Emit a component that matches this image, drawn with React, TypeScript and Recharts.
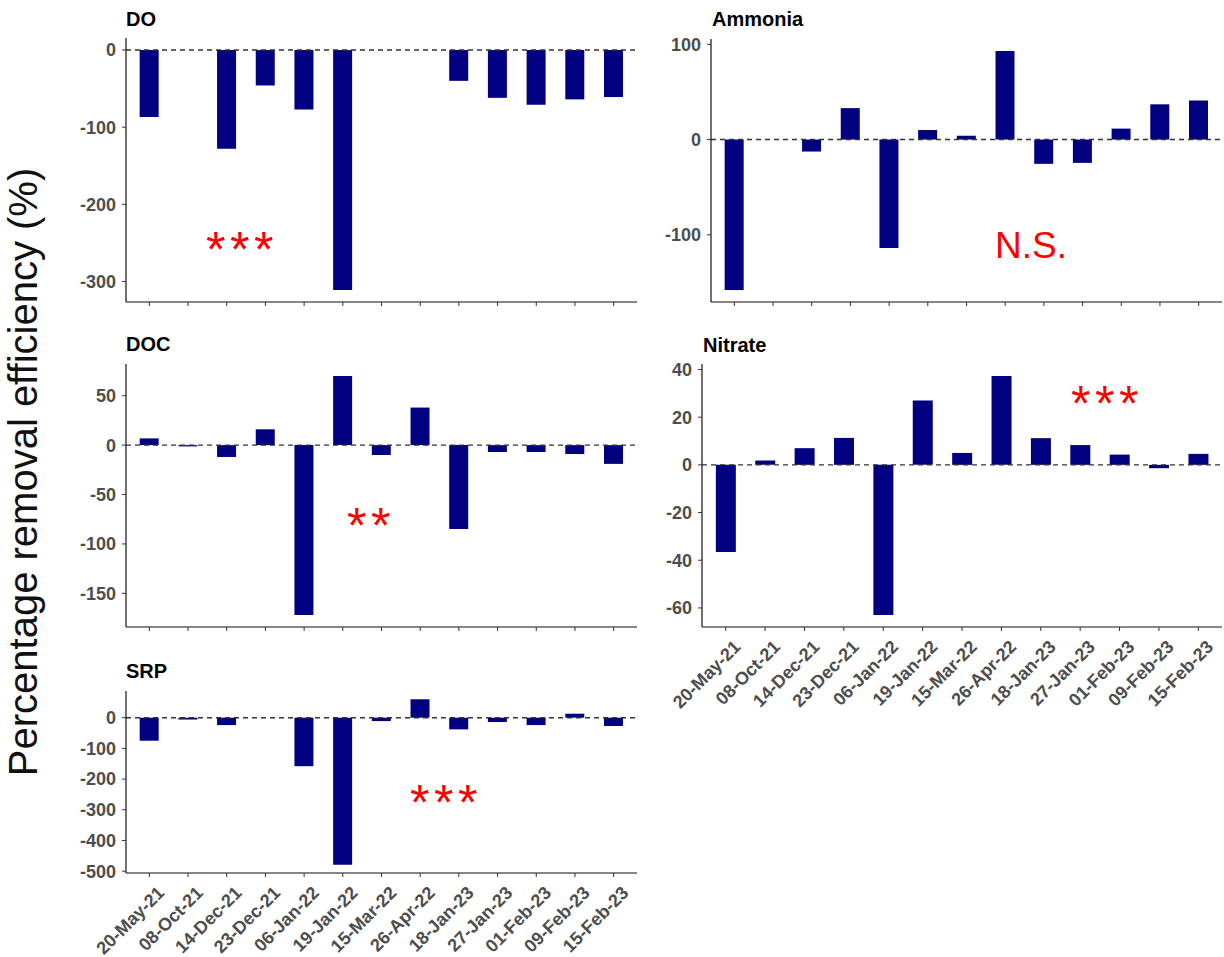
import { BarChart, Bar, XAxis, YAxis, ReferenceLine } from 'recharts';

const dates = [
  '20-May-21', '08-Oct-21', '14-Dec-21', '23-Dec-21', '06-Jan-22', '19-Jan-22', '15-Mar-22',
  '26-Apr-22', '18-Jan-23', '27-Jan-23', '01-Feb-23', '09-Feb-23', '15-Feb-23',
];

const doValues = [-87, null, -128, -46, -77, -311, null, null, -40, -62, -71, -64, -61];
const ammoniaValues = [-158, null, -12.6, 33, -114, 10, 4, 93, -25.5, -24.5, 11.5, 37, 41];
const docValues = [6.8, -1.3, -12, 16, -172, 70, -10, 38, -85, -7, -7, -9, -19];
const nitrateValues = [-36.5, 1.8, 7, 11.3, -63, 27, 5, 37.3, 11.2, 8.3, 4.3, -1.4, 4.6];
const srpValues = [-75, -6, -24, null, -158, -479, -11, 60, -38, -14, -24, 13, -27];

const doTicks = [-300, -200, -100, 0];
const ammoniaTicks = [-100, 0, 100];
const docTicks = [-150, -100, -50, 0, 50];
const nitrateTicks = [-60, -40, -20, 0, 20, 40];
const srpTicks = [-500, -400, -300, -200, -100, 0];

const FONT = '"Liberation Sans", Arial, sans-serif';
const NAVY = '#000080';

const BlankTick = () => <g />;

const DateTick = (props: any) => {
  const { x, y, payload } = props;
  return (
    <g transform={`translate(${x + 16},${y + 15})`}>
      <text
        textAnchor="end"
        transform="rotate(-45)"
        fontSize={18}
        fontWeight="bold"
        fill="#4d4d4d"
        fontFamily={FONT}
      >
        {payload.value}
      </text>
    </g>
  );
};

interface PanelProps {
  values: (number | null)[];
  ticks: number[];
  domain: [number, number];
  left: number;
  top: number;
  width: number;
  height: number;
  yWidth: number;
  xHeight: number;
  showDates?: boolean;
}

function Panel({ values, ticks, domain, left, top, width, height, yWidth, xHeight, showDates }: PanelProps) {
  const data = dates.map((d, i) => ({ date: d, value: values[i] }));
  return (
    <div style={{ position: 'absolute', left, top }}>
      <BarChart
        width={width}
        height={height}
        data={data}
        margin={{ top: 10, right: 0, bottom: 0, left: 0 }}
        barCategoryGap="25%"
      >
        <XAxis
          dataKey="date"
          interval={0}
          height={xHeight}
          padding={{ left: 4, right: 4 }}
          tick={showDates ? DateTick : BlankTick}
          tickSize={4}
          tickLine={{ stroke: '#333' }}
          axisLine={{ stroke: '#111', strokeWidth: 1.2 }}
        />
        <YAxis
          width={yWidth}
          domain={domain}
          ticks={ticks}
          allowDataOverflow
          tickSize={4}
          tickMargin={6}
          tickLine={{ stroke: '#333' }}
          axisLine={{ stroke: '#111', strokeWidth: 1.2 }}
          tick={{ fill: '#4d4d4d', fontSize: 18, fontWeight: 'bold', fontFamily: FONT }}
        />
        <Bar dataKey="value" fill={NAVY} isAnimationActive={false} />
        <ReferenceLine y={0} stroke="#333" strokeWidth={1.4} strokeDasharray="5 4" />
      </BarChart>
    </div>
  );
}

const titleStyle = { fontSize: 20, fontWeight: 'bold' as const, fill: '#000', fontFamily: FONT };
const starStyle = { fontSize: 50, fill: '#ff0000', fontFamily: FONT, letterSpacing: 4.5 };

export default function App() {
  return (
    <div style={{ position: 'absolute', left: 0, top: 0, width: 1224, height: 957, background: '#fff' }}>
      <Panel values={doValues} ticks={doTicks} domain={[-326.5, 15.5]}
        left={60} top={28} width={577} height={284} yWidth={66} xHeight={10} />
      <Panel values={ammoniaValues} ticks={ammoniaTicks} domain={[-170.6, 105.6]}
        left={640} top={29} width={582} height={283} yWidth={71} xHeight={10} />
      <Panel values={docValues} ticks={docTicks} domain={[-184.1, 82.1]}
        left={60} top={354} width={577} height={283} yWidth={66} xHeight={10} />
      <Panel values={nitrateValues} ticks={nitrateTicks} domain={[-68, 42.3]}
        left={640} top={354} width={582} height={373} yWidth={62} xHeight={100} showDates />
      <Panel values={srpValues} ticks={srpTicks} domain={[-506, 87]}
        left={60} top={681} width={577} height={276} yWidth={66} xHeight={84} showDates />

      <svg width={1224} height={957} style={{ position: 'absolute', left: 0, top: 0, pointerEvents: 'none' }}>
        <text x={126} y={26} {...titleStyle}>DO</text>
        <text x={712} y={26} {...titleStyle}>Ammonia</text>
        <text x={126} y={351} {...titleStyle}>DOC</text>
        <text x={703} y={352} {...titleStyle}>Nitrate</text>
        <text x={126} y={678} {...titleStyle}>SRP</text>

        <text
          transform="translate(37,472) rotate(-90)"
          textAnchor="middle"
          fontSize={40}
          fill="#111"
          fontFamily={FONT}
        >
          Percentage removal efficiency (%)
        </text>

        <text x={242} y={267} textAnchor="middle" {...starStyle}>***</text>
        <text x={371} y={543} textAnchor="middle" {...starStyle}>**</text>
        <text x={1107} y={421} textAnchor="middle" {...starStyle}>***</text>
        <text x={446} y={820} textAnchor="middle" {...starStyle}>***</text>
        <text x={995} y={258} fontSize={37} fill="#ff0000" fontFamily={FONT}>N.S.</text>
      </svg>
    </div>
  );
}
